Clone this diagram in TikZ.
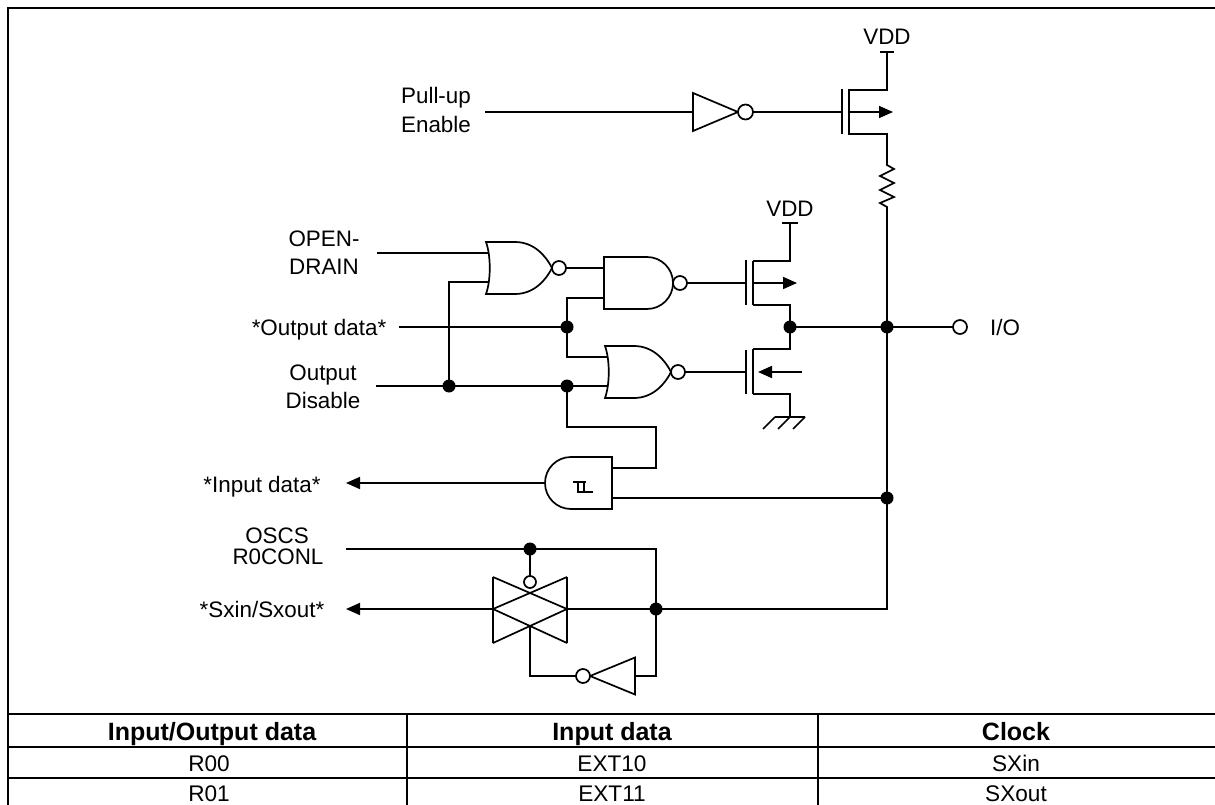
\documentclass[tikz,border=0pt]{standalone}
\usepackage{fontspec}
\setmainfont{Liberation Sans}
\usetikzlibrary{arrows.meta}
\begin{document}
\begin{tikzpicture}[x=1pt,y=-1pt,
  wire/.style={line width=1.7pt},
  lbl/.style={font=\fontsize{22.4}{26}\selectfont, inner sep=0pt, anchor=base},
  thd/.style={font=\bfseries\fontsize{25}{28}\selectfont, inner sep=0pt, anchor=base},
  tcell/.style={font=\fontsize{22.6}{26}\selectfont, inner sep=0pt, anchor=base},
  dot/.style={circle, fill=black, minimum size=13pt, inner sep=0pt},
  arr/.style={wire,-{Triangle[length=14pt,width=12pt]}},
  norg/.pic={
    \draw[wire,fill=white] (0,-26) -- (29,-26) .. controls (48,-26) and (60,-12) .. (66,0)
      .. controls (60,12) and (48,26) .. (29,26) -- (0,26) .. controls (5,12) and (5,-12) .. cycle;
    \draw[wire,fill=white] (73,0) circle[radius=7pt];
  },
  nandg/.pic={
    \draw[wire,fill=white] (0,-26) -- (43,-26) .. controls (57.4,-26) and (69,-14.4) .. (69,0)
      .. controls (69,14.4) and (57.4,26) .. (43,26) -- (0,26) -- cycle;
    \draw[wire,fill=white] (76,0) circle[radius=7pt];
  },
  invr/.pic={
    \draw[wire,fill=white] (0,-19) -- (45,0) -- (0,19) -- cycle;
    \draw[wire,fill=white] (52.5,0) circle[radius=7.5pt];
  },
  invl/.pic={
    \draw[wire,fill=white] (0,-18.5) -- (-45,0) -- (0,18.5) -- cycle;
    \draw[wire,fill=white] (-52,0) circle[radius=7pt];
  },
]
\useasboundingbox (0,0) rectangle (1215,805);

% ---------- frame and table ----------
\draw[line width=2.6pt] (8,805) -- (8,8) -- (1215,8);
\draw[line width=2.2pt] (8,714) -- (1215,714) (8,747) -- (1215,747) (8,778) -- (1215,778);
\draw[line width=1.6pt] (407,714) -- (407,805) (818,714) -- (818,805);
\node[thd] (h1) at (212,740) {Input/Output data};
\node[thd] (h2) at (612,740) {Input data};
\node[thd] (h3) at (1016,740) {Clock};
\node[tcell] (c11) at (209,771) {R00};
\node[tcell] (c12) at (612,771) {EXT10};
\node[tcell] (c13) at (1016,771) {SXin};
\node[tcell] (c21) at (209,801) {R01};
\node[tcell] (c22) at (612,801) {EXT11};
\node[tcell] (c23) at (1016,801) {SXout};

% ---------- labels ----------
\node[lbl] (vdd1) at (887,45) {VDD};
\node[lbl] (vdd2) at (790,216) {VDD};
\node[lbl] (pu1) at (436,104) {Pull-up};
\node[lbl] (pu2) at (436,133) {Enable};
\node[lbl] (od1) at (324,247) {OPEN-};
\node[lbl] (od2) at (324,274) {DRAIN};
\node[lbl] (odata) at (319,335) {*Output data*};
\node[lbl] (dis1) at (323,380) {Output};
\node[lbl] (dis2) at (323,408) {Disable};
\node[lbl] (idata) at (262,492) {*Input data*};
\node[lbl] (os1) at (277,543) {OSCS};
\node[lbl] (os2) at (278,564) {R0CONL};
\node[lbl] (sx) at (262,617) {*Sxin/Sxout*};
\node[lbl] (io) at (1005,335) {I/O};

% ---------- gates ----------
\pic at (693,112) {invr};
\pic at (486,268) {norg};
\pic at (604,283) {nandg};
\pic at (605,372) {norg};
\pic at (635,676) {invl};
% Schmitt buffer (facing left)
\draw[wire,fill=white] (612,457) -- (571,457) .. controls (556.6,457) and (545,468.6) .. (545,483)
  .. controls (545,497.4) and (556.6,509) .. (571,509) -- (612,509) -- cycle;
\draw[wire] (573,482) -- (586,482) (578,482) -- (578,492) -- (593,492) (584,482) -- (584,492);

% ---------- named points ----------
\coordinate (jOD) at (449,386);
\coordinate (jDat) at (567,327);
\coordinate (jDis) at (567,386);
\coordinate (jDrn) at (790,327);
\coordinate (jBus) at (887,327);
\coordinate (jIn) at (887,498);
\coordinate (jOsc) at (530,549);
\coordinate (jSx) at (656,609);
\coordinate (ioT) at (960,327);

% ---------- pull-up branch ----------
\draw[wire] (485,112) -- (693,112);
\draw[wire] (753,112) -- (842,112);
\draw[wire] (842,89) -- (842,134);
\draw[wire] (849,89) -- (849,135);
\draw[wire] (849,90) -- (887,90) -- (887,52);
\draw[wire] (880,52) -- (894,52);
\draw[arr] (849,112) -- (893,112);
\draw[wire] (849,134) -- (887,134) -- (887,165) -- (894,169) -- (880,176) -- (894,183) -- (880,190)
  -- (894,197) -- (880,203) -- (887,207) -- (887,609) -- (567,609);

% ---------- logic ----------
\draw[wire] (377,253) -- (489,253);
\draw[wire] (jOD) -- (449,282) -- (489,282);
\draw[wire] (566,268) -- (604,268);
\draw[wire] (604,298) -- (567,298) -- (567,357) -- (608,357);
\draw[wire] (399,327) -- (jDat);
\draw[wire] (376,386) -- (608,386);
\draw[wire] (jDis) -- (567,427) -- (656,427) -- (656,468) -- (612,468);
\draw[wire] (612,498) -- (jIn);
\draw[arr] (545,483) -- (346,483);

% ---------- output stage ----------
\draw[wire] (687,283) -- (746,283);
\draw[wire] (746,260) -- (746,305);
\draw[wire] (753,261) -- (753,305);
\draw[wire] (753,261) -- (790,261) -- (790,223);
\draw[wire] (782,223) -- (798,223);
\draw[wire] (753,305) -- (790,305) -- (jDrn);
\draw[arr] (753,283) -- (797,283);
\draw[wire] (685,372) -- (746,372);
\draw[wire] (746,350) -- (746,394);
\draw[wire] (753,349) -- (753,394);
\draw[wire] (753,349) -- (790,349) -- (jDrn);
\draw[wire] (753,394) -- (790,394) -- (790,417);
\draw[wire] (775,417) -- (805,417) (775,417) -- (763,429) (790,417) -- (778,429) (805,417) -- (793,429);
\draw[arr] (802,372) -- (758,372);
\draw[wire] (jDrn) -- (953,327);
\draw[wire,fill=white] (ioT) circle[radius=7pt];

% ---------- oscillator ----------
\draw[wire] (346,549) -- (656,549) -- (jSx);
\draw[wire] (jOsc) -- (530,576);
\draw[wire,fill=white] (530,582) circle[radius=6pt];
\draw[wire] (493,577) -- (493,643) (567,577) -- (567,643)
  (493,577) -- (567,609) -- (493,643) (567,577) -- (493,609) -- (567,643);
\draw[arr] (493,609) -- (346,609);
\draw[wire] (530,626) -- (530,676) -- (576,676);
\draw[wire] (635,676) -- (656,676) -- (jSx);

% ---------- junction dots ----------
\foreach \p in {jOD,jDat,jDis,jDrn,jBus,jIn,jOsc,jSx}
  \node[dot] at (\p) {};
\end{tikzpicture}
\end{document}
